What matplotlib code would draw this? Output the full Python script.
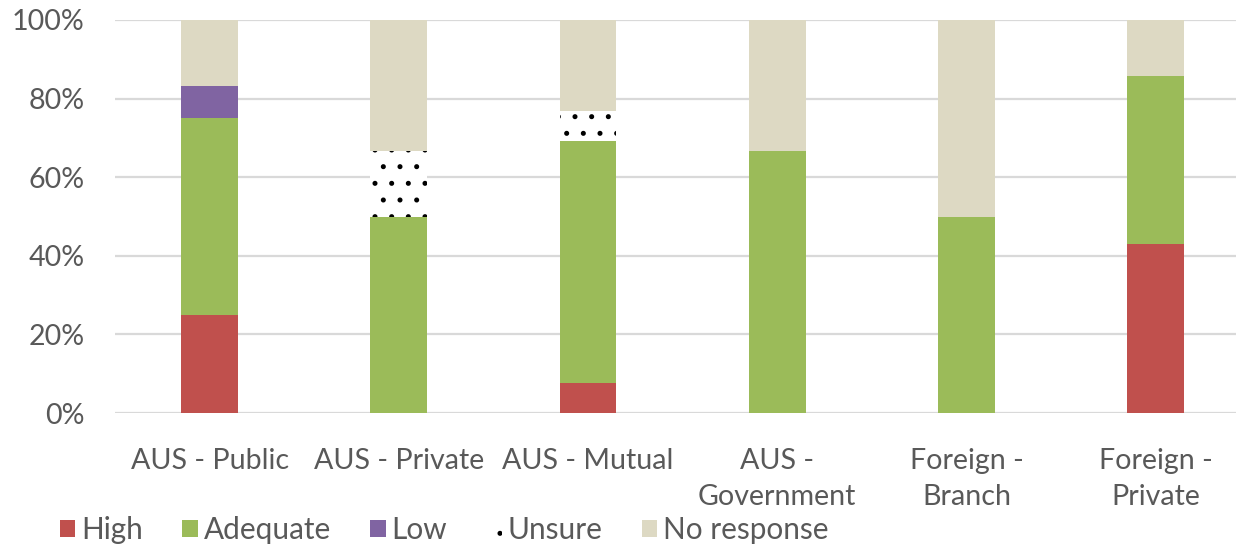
import matplotlib.pyplot as plt
import numpy as np
from matplotlib.patches import Patch

plt.rcParams["font.family"] = ["Lato", "DejaVu Sans"]
plt.rcParams["hatch.linewidth"] = 1.2

categories = ["AUS - Public", "AUS - Private", "AUS - Mutual", "AUS -\nGovernment", "Foreign -\nBranch", "Foreign -\nPrivate"]
high = [25.0, 0.0, 7.7, 0.0, 0.0, 42.9]
adequate = [50.0, 50.0, 61.5, 66.7, 50.0, 42.9]
low = [8.3, 0.0, 0.0, 0.0, 0.0, 0.0]
unsure = [0.0, 16.7, 7.7, 0.0, 0.0, 0.0]
no_response = [16.7, 33.3, 23.1, 33.3, 50.0, 14.3]
y_ticks = [0, 20, 40, 60, 80, 100]

series = [
    ("High", high, "#C0504D", None),
    ("Adequate", adequate, "#9BBB59", None),
    ("Low", low, "#8064A2", None),
    ("Unsure", unsure, "white", "."),
    ("No response", no_response, "#DDD9C3", None),
]

text_color = "#595959"

fig = plt.figure(figsize=(12.36, 5.46), dpi=100)
ax = fig.add_axes([115 / 1236, 133 / 546, 1 - 115 / 1236, 393 / 546])

x = np.arange(len(categories))
bottom = np.zeros(len(categories))
handles = []
for name, vals, color, hatch in series:
    vals = np.array(vals)
    # hatch takes the edge colour, so keep the edge black but draw no outline
    edge = "black" if hatch else "none"
    ax.bar(x, vals, width=0.30, bottom=bottom, color=color, hatch=hatch,
           edgecolor=edge, linewidth=0, zorder=3)
    bottom += vals
    handles.append(Patch(facecolor=color, hatch=hatch, edgecolor=edge, linewidth=0, label=name))

ax.set_xlim(-0.5, 5.425)
ax.set_ylim(0, 100)
ax.set_yticks(y_ticks)
ax.set_yticklabels([f"{t}%" for t in y_ticks])
ax.set_xticks(x)
ax.set_xticklabels(categories, linespacing=1.48)
ax.tick_params(axis="both", length=0, labelsize=20.6, labelcolor=text_color)
ax.tick_params(axis="x", pad=25)
ax.tick_params(axis="y", pad=22)
ax.grid(axis="y", color="#D9D9D9", linewidth=1.6, zorder=0)
for s in ax.spines.values():
    s.set_visible(False)

fig.legend(handles=handles, loc="center left", bbox_to_anchor=(60 / 1236, 16 / 546), ncol=5,
           frameon=False, fontsize=21.4, labelcolor=text_color, handlelength=0.52,
           handleheight=0.52, handletextpad=0.2, columnspacing=1.32,
           borderpad=0, borderaxespad=0)

fig.savefig("out.png", dpi=100)
